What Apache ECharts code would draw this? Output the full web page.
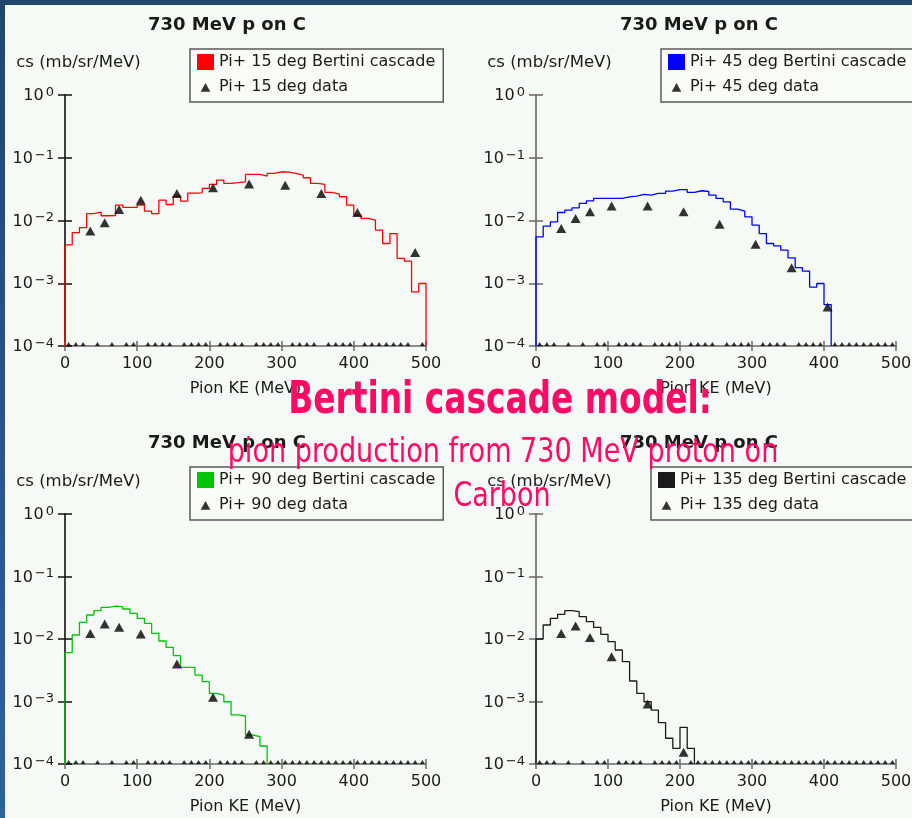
<!DOCTYPE html>
<html>
<head>
<meta charset="utf-8">
<script src="https://cdn.jsdelivr.net/npm/echarts@6/dist/echarts.min.js"></script>
<style>
html,body{margin:0;padding:0;background:#f6faf6;}
#chart{width:912px;height:818px;}
</style>
</head>
<body>
<div id="chart"></div>
<script>
// ---------------- data ----------------
const chartTitle = '730 MeV p on C';
const yAxisName = 'cs (mb/sr/MeV)';
const xAxisName = 'Pion KE (MeV)';
const xTicks = [0, 100, 200, 300, 400, 500];
const yMin = 1e-4, yMax = 1;

const binEdgesKE = [0,10,20,30,40,50,60,70,80,90,100,110,120,130,140,150,160,170,180,190,200,
  210,220,230,240,250,260,270,280,290,300,310,320,330,340,350,360,370,380,390,400,
  410,420,430,440,450,460,470,480,490,500];
const binCentersKE = [5,15,25,35,45,55,65,75,85,95,105,115,125,135,145,155,165,175,185,195,
  205,215,225,235,245,255,265,275,285,295,305,315,325,335,345,355,365,375,385,395,
  405,415,425,435,445,455,465,475,485,495];

// Bertini cascade histograms (mb/sr/MeV), one value per 10 MeV bin from 0 MeV
const cascade15 = [0.0041,0.0064,0.0077,0.0129,0.0136,0.0119,0.0120,0.0176,0.0162,0.0162,
  0.0176,0.0141,0.0129,0.0211,0.0180,0.0245,0.0204,0.0273,0.0276,0.0324,
  0.0376,0.0440,0.0390,0.0400,0.0414,0.0542,0.0542,0.0510,0.0563,0.0598,
  0.0590,0.0563,0.0529,0.0480,0.0390,0.0375,0.0280,0.0263,0.0239,0.0176,
  0.0122,0.0108,0.0101,0.0070,0.0043,0.0062,0.0025,0.00225,0.00073,0.00099];
const cascade45 = [0.00549,0.00812,0.00952,0.01342,0.01462,0.0159,0.01868,0.0206,0.02246,0.02246,
  0.02246,0.02246,0.02387,0.02445,0.0260,0.02537,0.0270,0.0270,0.0294,0.0310,
  0.0310,0.0280,0.0298,0.0290,0.02537,0.02246,0.01986,0.01517,0.0141,0.01145,
  0.00843,0.0062,0.0043,0.00394,0.00336,0.00254,0.00178,0.00156,0.00087,0.00099,
  0.000457];
const cascade90 = [0.00604,0.01159,0.01848,0.0242,0.0284,0.0321,0.0337,0.0329,0.0302,0.0257,
  0.0214,0.0178,0.01232,0.00929,0.00736,0.00541,0.00352,0.00352,0.00265,0.00208,
  0.00135,0.00127,0.00099,0.00061,0.000586,0.000291,0.000274,0.000194];
const cascade135 = [0.0100,0.01675,0.0214,0.0248,0.0284,0.0274,0.0228,0.0189,0.01538,0.01188,
  0.00906,0.00667,0.00434,0.00213,0.00135,0.00099,0.00073,0.000459,0.000258,0.000178,
  0.000386,0.000178];

// measured data points
const dataKE15 = [35,55,75,105,155,205,255,305,355,405,485];
const data15 = [0.0068,0.0092,0.0150,0.0211,0.0270,0.0332,0.0380,0.0366,0.0270,0.0134,0.0031];
const dataKE45 = [35,55,75,105,155,205,255,305,355,405];
const data45 = [0.00745,0.0108,0.01375,0.0171,0.0171,0.01375,0.00874,0.0042,0.00176,0.00042];
const dataKE90 = [35,55,75,105,155,205,255];
const data90 = [0.0123,0.0174,0.0154,0.0120,0.00398,0.00117,0.00030];
const dataKE135 = [35,55,75,105,155,205];
const data135 = [0.0123,0.0161,0.0106,0.0052,0.00091,0.000154];

const angles = ['15','45','90','135'];
const lineColors = ['#ff0000','#0000ff','#00c400','#1a1a1a'];
const axisColorsY = ['#111111','#666666','#111111','#666666'];

// ---------------- layout ----------------
const grids = [
  {left:65, top:95, width:361, height:251},
  {left:536, top:95, width:360, height:251},
  {left:65, top:514, width:361, height:250},
  {left:536, top:514, width:360, height:250}
];
const titlePos = [[227,25],[699,25],[227,443],[699,443]];
const legendPos = [[190,49],[661,49],[190,467],[651,467]];

const panels = [
  {hist: cascade15, ke: dataKE15, val: data15},
  {hist: cascade45, ke: dataKE45, val: data45},
  {hist: cascade90, ke: dataKE90, val: data90},
  {hist: cascade135, ke: dataKE135, val: data135}
];

const FONT = "'DejaVu Sans', Verdana, sans-serif";
const NARROW = "'Liberation Sans Narrow', 'Arial Narrow', 'DejaVu Sans Condensed', sans-serif";
const triIcon = 'path://M0,0M20,20M4,16L10,5L16,16Z';

function stepPoints(hist) {
  const pts = [[binEdgesKE[0], yMin]];
  for (let i = 0; i < hist.length; i++) {
    pts.push([binEdgesKE[i], hist[i]]);
    pts.push([binEdgesKE[i + 1], hist[i]]);
  }
  pts.push([binEdgesKE[hist.length], yMin]);
  return pts;
}

function yLabel(v) {
  const e = Math.round(Math.log10(v));
  return '{b|10}{s|' + (e === 0 ? '0' : '\u2212' + (-e)) + '}';
}

const xAxes = [], yAxes = [], series = [], legends = [], graphics = [];

grids.forEach((g, i) => {
  xAxes.push({
    type: 'value', gridIndex: i, min: 0, max: 500, interval: 100, position: 'bottom',
    splitLine: {show: false},
    axisLine: {show: true, onZero: false, lineStyle: {color: '#6a6a6a', width: 1.5}},
    axisTick: {show: true, length: 5, lineStyle: {color: '#6a6a6a', width: 1.5}},
    axisLabel: {show: true, margin: 10, color: '#1a1a1a', fontFamily: FONT, fontSize: 16,
      formatter: v => xTicks.indexOf(v) >= 0 ? String(v) : ''},
    name: xAxisName, nameLocation: 'middle', nameGap: 35,
    nameTextStyle: {color: '#1a1a1a', fontFamily: FONT, fontSize: 16}
  });
  yAxes.push({
    type: 'log', logBase: 10, gridIndex: i, min: yMin, max: yMax, position: 'left',
    splitLine: {show: false},
    axisLine: {show: true, onZero: false, lineStyle: {color: axisColorsY[i], width: 1.6}},
    axisTick: {show: true, length: 7, lineStyle: {color: axisColorsY[i], width: 1.5}},
    axisLabel: {show: true, margin: 11, color: '#1a1a1a', fontFamily: FONT,
      formatter: yLabel,
      rich: {
        b: {fontSize: 16, fontFamily: FONT, color: '#1a1a1a', lineHeight: 18, verticalAlign: 'bottom'},
        s: {fontSize: 13, fontFamily: FONT, color: '#1a1a1a', lineHeight: 13, verticalAlign: 'top', padding: [0, 0, 11, 2]}
      }},
    name: yAxisName, nameLocation: 'end', nameGap: 24,
    nameTextStyle: {color: '#1a1a1a', fontFamily: FONT, fontSize: 16.5, align: 'center', padding: [0, 0, 0, 27]}
  });
});
// second set of axes: ticks on the inner side (ticks cross the axis line)
grids.forEach((g, i) => {
  xAxes.push({
    type: 'value', gridIndex: i, min: 0, max: 500, interval: 100, position: 'bottom',
    splitLine: {show: false}, axisLine: {show: false, onZero: false},
    axisTick: {show: true, inside: true, length: 5, lineStyle: {color: '#6a6a6a', width: 1.5}},
    axisLabel: {show: false}
  });
  yAxes.push({
    type: 'log', logBase: 10, gridIndex: i, min: yMin, max: yMax, position: 'left',
    splitLine: {show: false}, axisLine: {show: false, onZero: false},
    axisTick: {show: true, inside: true, length: 7, lineStyle: {color: axisColorsY[i], width: 1.5}},
    axisLabel: {show: false}
  });
});

panels.forEach((p, i) => {
  const cascName = 'Pi+ ' + angles[i] + ' deg Bertini cascade';
  const dataName = 'Pi+ ' + angles[i] + ' deg data';
  series.push({
    name: cascName, type: 'line', xAxisIndex: i, yAxisIndex: i,
    data: stepPoints(p.hist), showSymbol: false, symbol: 'none',
    color: lineColors[i],
    lineStyle: {color: lineColors[i], width: 1.3}, z: 3, silent: true, animation: false
  });
  series.push({
    name: dataName, type: 'scatter', xAxisIndex: i, yAxisIndex: i,
    data: p.ke.map((k, j) => [k, p.val[j]]),
    symbol: 'triangle', symbolSize: [10, 9], color: '#000000',
    itemStyle: {color: '#000000'}, z: 4, animation: false
  });
  const zeroKE = binCentersKE.filter(k => p.ke.indexOf(k) < 0);
  series.push({
    name: dataName, type: 'scatter', xAxisIndex: i, yAxisIndex: i,
    data: zeroKE.map(k => [k, yMin]),
    symbol: 'triangle', symbolSize: [5, 4], symbolOffset: [0, -2],
    itemStyle: {color: '#000000'}, z: 4, animation: false, clip: false
  });
  legends.push({
    show: true, orient: 'vertical', left: legendPos[i][0], top: legendPos[i][1],
    itemWidth: 17, itemHeight: 16, itemGap: 9, padding: [5, 8, 7, 7],
    borderColor: '#5a5a5a', borderWidth: 1.5, backgroundColor: '#f8fbf8', borderRadius: 0,
    selectedMode: false,
    textStyle: {color: '#1a1a1a', fontFamily: FONT, fontSize: 16},
    data: [
      {name: cascName, icon: 'rect', itemStyle: {color: lineColors[i]}},
      {name: dataName, icon: triIcon, itemStyle: {color: '#000000'}}
    ]
  });
  graphics.push({
    type: 'text', x: titlePos[i][0], y: titlePos[i][1], z: 10,
    style: {text: chartTitle, fill: '#1a1a1a', font: 'bold 18px ' + FONT, align: 'center', verticalAlign: 'middle'}
  });
});

// frame strips
graphics.push({type: 'rect', shape: {x: 0, y: 0, width: 912, height: 5}, style: {fill: '#23466e'}, z: 20});
graphics.push({type: 'rect', shape: {x: 0, y: 0, width: 5, height: 818},
  style: {fill: new echarts.graphic.LinearGradient(0, 0, 0, 1, [{offset: 0, color: '#23466e'}, {offset: 1, color: '#2e6397'}])}, z: 20});

// overlay caption
graphics.push({type: 'text', x: 500, y: 402, z: 30, scaleX: 0.83,
  style: {text: 'Bertini cascade model:', fill: '#ff0a64', font: 'bold 44px ' + NARROW, align: 'center', verticalAlign: 'middle'}});
graphics.push({type: 'text', x: 503, y: 453, z: 30, scaleX: 0.885,
  style: {text: 'pion production from 730 MeV proton on', fill: '#ff0a64', font: '34px ' + NARROW, align: 'center', verticalAlign: 'middle'}});
graphics.push({type: 'text', x: 502, y: 497, z: 30, scaleX: 0.88,
  style: {text: 'Carbon', fill: '#ff0a64', font: '34px ' + NARROW, align: 'center', verticalAlign: 'middle'}});

const chart = echarts.init(document.getElementById('chart'), null, {renderer: 'canvas'});
chart.setOption({
  backgroundColor: '#f6faf6',
  animation: false,
  grid: grids.map(g => Object.assign({containLabel: false, outerBoundsMode: 'none'}, g)),
  xAxis: xAxes,
  yAxis: yAxes,
  legend: legends,
  series: series,
  graphic: graphics
});
</script>
</body>
</html>
